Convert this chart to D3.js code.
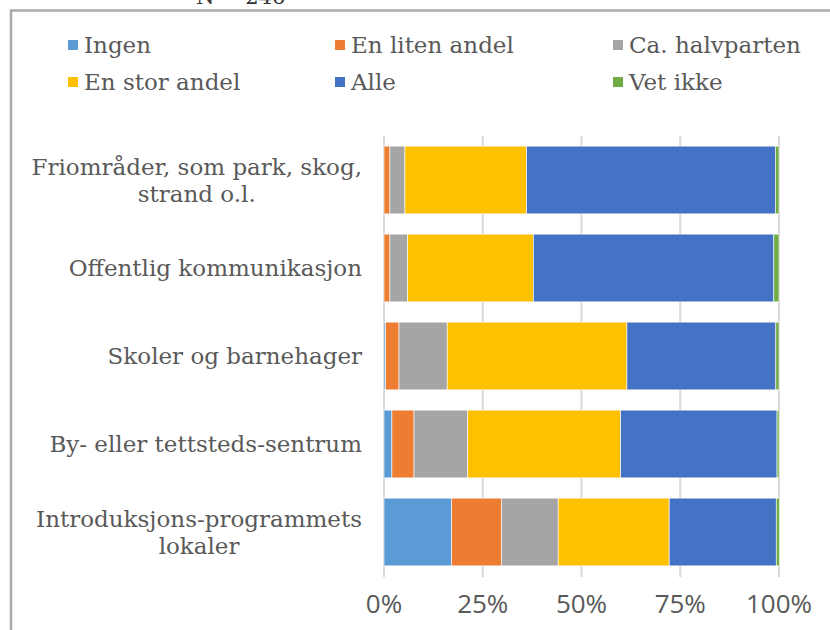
<!DOCTYPE html>
<html>
<head>
<meta charset="utf-8">
<script src="https://cdn.jsdelivr.net/npm/d3@7"></script>
<style>
  body { margin: 0; background: #fff; }
  svg { display: block; }
</style>
</head>
<body>
<svg id="chart" width="830" height="630"></svg>
<script>
// categories, top to bottom
const categories = [
    ["Friområder, som park, skog,", "strand o.l."],
    ["Offentlig kommunikasjon"],
    ["Skoler og barnehager"],
    ["By- eller tettsteds-sentrum"],
    ["Introduksjons-programmets", "lokaler"]
];
const seriesNames = ["Ingen", "En liten andel", "Ca. halvparten", "En stor andel", "Alle", "Vet ikke"];
const seriesColors = ["#5B9BD5", "#ED7D31", "#A5A5A5", "#FFC000", "#4472C4", "#70AD47"];

// percent per category, same order as categories
const ingen = [0, 0, 0.4, 2.0, 17.1];
const litenAndel = [1.5, 1.5, 3.4, 5.6, 12.7];
const halvparten = [3.8, 4.5, 12.2, 13.6, 14.3];
const storAndel = [30.8, 31.8, 45.5, 38.7, 28.1];
const alle = [63.0, 60.9, 37.7, 39.6, 27.1];
const vetIkke = [0.9, 1.3, 0.8, 0.5, 0.8];
const tickValues = [0, 25, 50, 75, 100];

const svg = d3.select("#chart");
const labelColor = "#595959";
const serif = "'DejaVu Serif', serif";

// chart border (cropped at right and bottom)
svg.append("rect")
    .attr("x", 11).attr("y", 10.5)
    .attr("width", 900).attr("height", 700)
    .attr("fill", "none")
    .attr("stroke", "#ABABAB")
    .attr("stroke-width", 2.5);

// title fragment, cut off at the top edge as in the source
svg.append("text")
    .attr("x", 196).attr("y", 4)
    .attr("font-family", serif)
    .attr("font-size", 21)
    .attr("fill", "#333")
    .text("N = 246");

const x = d3.scaleLinear().domain([0, 100]).range([384, 779]);
const y = d3.scaleBand().domain(d3.range(categories.length)).range([136, 576]).paddingInner(0.23).paddingOuter(0.115);

// gridlines
svg.append("g")
    .selectAll("line")
    .data(tickValues)
    .join("line")
    .attr("x1", d => x(d)).attr("x2", d => x(d))
    .attr("y1", 136).attr("y2", 577)
    .attr("stroke", "#D9D9D9")
    .attr("stroke-width", 2);

// stacked bars
const rows = categories.map((c, i) => ({
    "Ingen": ingen[i], "En liten andel": litenAndel[i], "Ca. halvparten": halvparten[i],
    "En stor andel": storAndel[i], "Alle": alle[i], "Vet ikke": vetIkke[i], idx: i
}));
const stacked = d3.stack().keys(seriesNames)(rows);

svg.append("g")
    .selectAll("g")
    .data(stacked)
    .join("g")
    .attr("fill", (d, i) => seriesColors[i])
    .selectAll("rect")
    .data(d => d)
    .join("rect")
    .attr("x", d => x(d[0]))
    .attr("y", d => y(d.data.idx))
    .attr("width", d => Math.max(0, x(d[1]) - x(d[0])))
    .attr("height", y.bandwidth())
    .attr("stroke", "#fff")
    .attr("stroke-width", 0.6);

// x tick labels
svg.append("g")
    .selectAll("text")
    .data(tickValues)
    .join("text")
    .attr("x", d => x(d))
    .attr("y", 613)
    .attr("text-anchor", "middle")
    .attr("font-family", "'Open Sans', sans-serif")
    .attr("font-size", 26)
    .attr("fill", labelColor)
    .text(d => d + "%");

// category labels: block right-aligned, lines centred within block
const labelRight = 362;
const catG = svg.append("g");
categories.forEach((lines, i) => {
    const cy = y(i) + y.bandwidth() / 2;
    const g = catG.append("g");
    const texts = lines.map((line, k) => g.append("text")
        .attr("y", cy + 8 - (lines.length - 1) * 13.5 + k * 27)
        .attr("text-anchor", "middle")
        .attr("font-family", serif)
        .attr("font-size", 23)
        .attr("fill", labelColor)
        .text(line));
    const w = d3.max(texts, t => t.node().getComputedTextLength());
    texts.forEach(t => t.attr("x", labelRight - w / 2));
});

// legend
const legendPos = [[68, 45], [335, 45], [613, 45], [68, 82], [335, 82], [613, 82]];
const legend = svg.append("g")
    .selectAll("g")
    .data(seriesNames)
    .join("g")
    .attr("transform", (d, i) => `translate(${legendPos[i][0]},${legendPos[i][1]})`);
legend.append("rect")
    .attr("x", 0).attr("y", -5)
    .attr("width", 10).attr("height", 10)
    .attr("fill", (d, i) => seriesColors[i]);
legend.append("text")
    .attr("x", 16).attr("y", 8)
    .attr("font-family", serif)
    .attr("font-size", 23)
    .attr("fill", labelColor)
    .text(d => d);
</script>
</body>
</html>
